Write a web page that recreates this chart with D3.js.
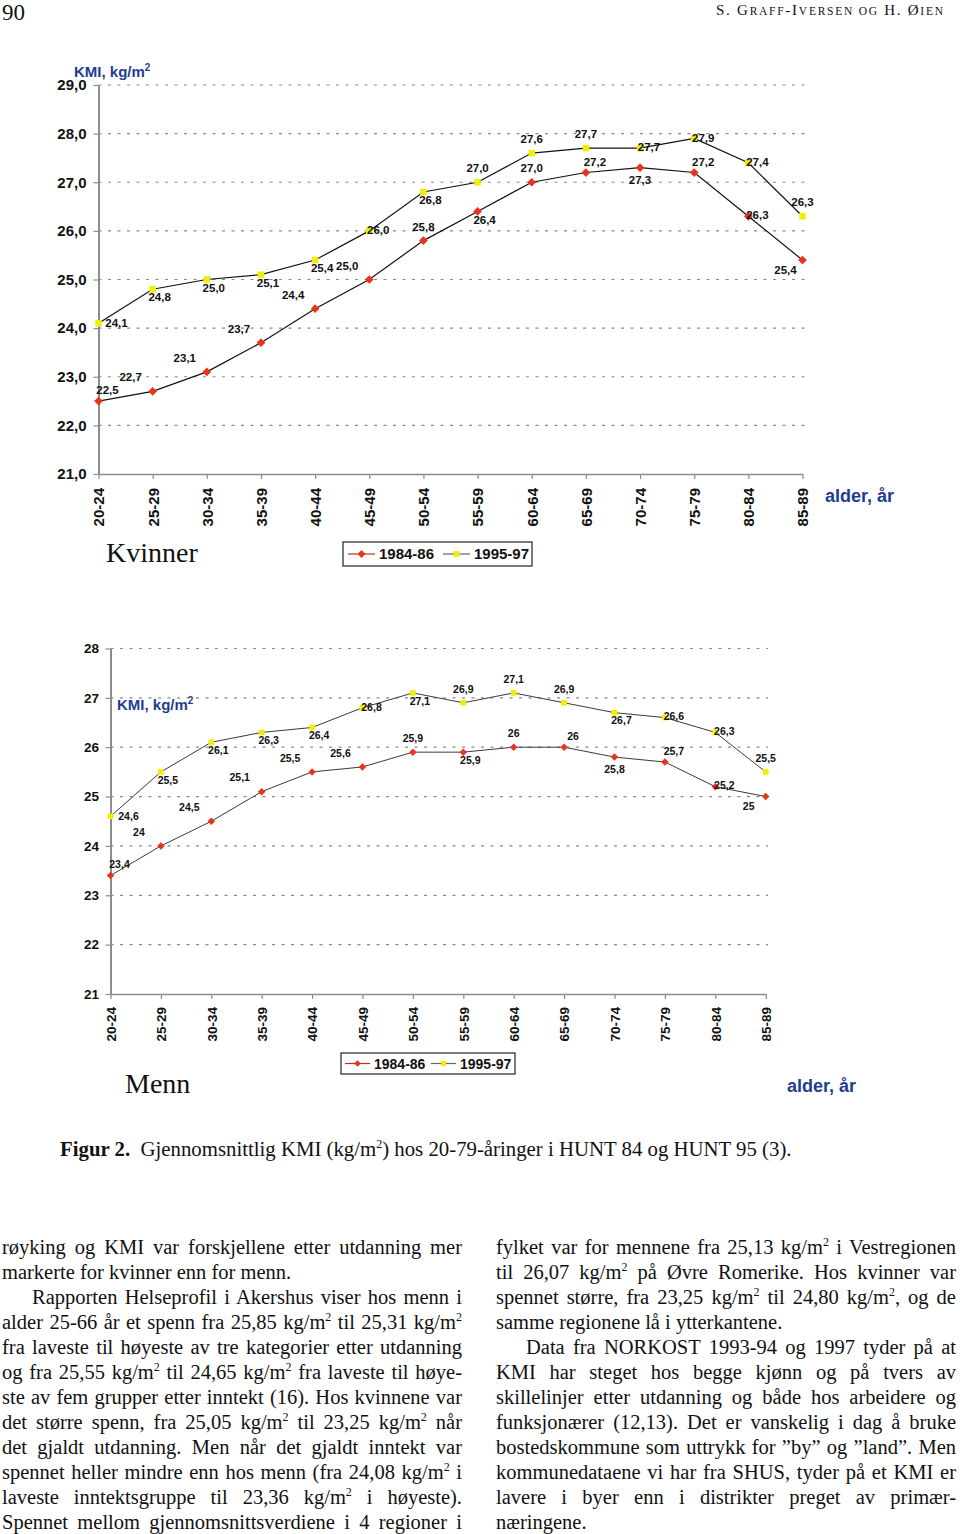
<!DOCTYPE html>
<html><head><meta charset="utf-8">
<script src="https://cdn.jsdelivr.net/npm/d3@7"></script>
<style>
body{margin:0;background:#fff;width:960px;height:1534px;overflow:hidden;position:relative;}
svg{position:absolute;left:0;top:0;}
.txt{position:absolute;font-family:"Liberation Serif","Times New Roman",serif;font-size:20.5px;line-height:25px;color:#111;}
.txt div{white-space:nowrap;}
.txt .j{text-align:justify;text-align-last:justify;}
sup{font-size:12px;line-height:0;vertical-align:8px;}
</style></head><body>
<svg id="chart" width="960" height="1534"></svg>
<div id="cap" class="txt" style="left:60px;top:1136px;font-size:20.8px"></div>
<div id="left" class="txt" style="left:2px;top:1235px;width:460px"></div>
<div id="right" class="txt" style="left:496px;top:1235px;width:460px"></div>
<script>
// ---------- data ----------
const ageGroups = ["20-24","25-29","30-34","35-39","40-44","45-49","50-54","55-59","60-64","65-69","70-74","75-79","80-84","85-89"];
const seriesNames = ["1984-86","1995-97"];
const women1984 = [22.5, 22.7, 23.1, 23.7, 24.4, 25.0, 25.8, 26.4, 27.0, 27.2, 27.3, 27.2, 26.3, 25.4];
const women1995 = [24.1, 24.8, 25.0, 25.1, 25.4, 26.0, 26.8, 27.0, 27.6, 27.7, 27.7, 27.9, 27.4, 26.3];
const men1984   = [23.4, 24, 24.5, 25.1, 25.5, 25.6, 25.9, 25.9, 26, 26, 25.8, 25.7, 25.2, 25];
const men1995   = [24.6, 25.5, 26.1, 26.3, 26.4, 26.8, 27.1, 26.9, 27.1, 26.9, 26.7, 26.6, 26.3, 25.5];
const womenTicks = [21, 22, 23, 24, 25, 26, 27, 28, 29];
const menTicks   = [21, 22, 23, 24, 25, 26, 27, 28];
// label placement codes (a=above, b=below, r=right, al/ar=above-left/right, br/bl=below-right/left)
const womenPlace1984 = ["ar","al","al","al","al","al","a","br","a","ar","b","ar","r","bl"];
const womenPlace1995 = ["rr","br","br","br","br","r","br","a","a","a","r","r","r","a"];
const menPlace1984   = ["ar","al","al","al","al","al","a","br","a","ar","b","ar","r","bl"];
const menPlace1995   = ["rr","br","br","br","br","r","br","a","a","a","br","r","r","a"];

// ---------- style ----------
const FONT = "'Liberation Sans', Arial, sans-serif";
const SERIF = "'Liberation Serif','Times New Roman',serif";
const BLUE = "#1f3d8f";
const RED = "#e8341c", YEL = "#f2ee00";
const OFF = {a:[0,-14], b:[0,12], r:[9,-1], rr:[18,0], al:[-22,-14], ar:[9,-11], br:[7,8], bl:[-17,10]};

const svg = d3.select("#chart");

function chart(cfg){
  const g = svg.append("g");
  const x = d3.scalePoint().domain(ageGroups).range([cfg.left, cfg.right]);
  const y = d3.scaleLinear().domain(cfg.domain).range([cfg.bottom, cfg.top]);

  g.selectAll("line.grid").data(cfg.ticks.filter(t => t > cfg.domain[0])).join("line")
    .attr("class","grid")
    .attr("x1", cfg.left).attr("x2", cfg.gridEnd)
    .attr("y1", d => y(d)).attr("y2", d => y(d))
    .attr("stroke","#8a8a8a").attr("stroke-width",1.2).attr("stroke-dasharray","3,6.5");

  const ya = d3.axisLeft(y).tickValues(cfg.ticks).tickFormat(cfg.tickFmt)
    .tickSize(5).tickSizeOuter(0).tickPadding(cfg.yPad);
  g.append("g").attr("transform", `translate(${cfg.left},0)`).call(ya)
    .call(s => {
      s.select(".domain").attr("stroke","#8c8c8c").attr("stroke-width",2);
      s.selectAll(".tick line").attr("stroke","#8c8c8c").attr("stroke-width",1.2);
      s.selectAll("text").attr("font-family",FONT).attr("font-weight","bold")
        .attr("font-size",cfg.yFont).attr("fill","#111");
    });

  const xa = d3.axisBottom(x).tickSize(5).tickSizeOuter(0);
  g.append("g").attr("transform", `translate(0,${cfg.bottom})`).call(xa)
    .call(s => {
      s.select(".domain").attr("stroke","#8c8c8c").attr("stroke-width",1.6);
      s.selectAll(".tick line").attr("stroke","#8c8c8c").attr("stroke-width",1.2);
      s.selectAll("text").attr("font-family",FONT).attr("font-weight","bold")
        .attr("font-size",cfg.xFont).attr("fill","#111")
        .attr("transform","rotate(-90)").attr("text-anchor","end")
        .attr("x", -cfg.xPad).attr("y", 0).attr("dy","0.36em");
    });

  const line = d3.line().x((d,i) => x(ageGroups[i])).y(d => y(d));
  cfg.series.forEach(s => {
    g.append("path").datum(s.values).attr("d", line)
      .attr("fill","none").attr("stroke", cfg.lineColor).attr("stroke-width", cfg.lineW);
  });
  cfg.series.forEach(s => {
    g.selectAll(null).data(s.values).join("path")
      .attr("d", d3.symbol().type(d3.symbolSquare).size(s.msize))
      .attr("transform", (d,i) => `translate(${x(ageGroups[i])},${y(d)}) rotate(${s.rot})`)
      .attr("fill", s.color);
    g.selectAll(null).data(s.values).join("text")
      .attr("x", (d,i) => x(ageGroups[i]) + OFF[s.place[i]][0])
      .attr("y", (d,i) => y(d) + OFF[s.place[i]][1])
      .attr("dy","0.36em").attr("text-anchor","middle")
      .attr("font-family",FONT).attr("font-weight","bold").attr("font-size",cfg.labFont)
      .attr("fill","#111").text(d => cfg.labFmt(d));
  });

  // legend
  const L = cfg.legend;
  const lg = g.append("g");
  lg.append("rect").attr("x",L.x).attr("y",L.y).attr("width",L.w).attr("height",L.h)
    .attr("fill","#fff").attr("stroke","#333").attr("stroke-width",1.3);
  cfg.series.forEach((s,k) => {
    const cy = L.y + L.h/2;
    const lx = L.x + L.items[k];
    lg.append("line").attr("x1",lx).attr("x2",lx+L.lineLen).attr("y1",cy).attr("y2",cy)
      .attr("stroke", k === 0 ? "#c0301c" : "#666").attr("stroke-width",1.2);
    lg.append("path").attr("d", d3.symbol().type(d3.symbolSquare).size(s.msize*0.8))
      .attr("transform",`translate(${lx+L.lineLen/2},${cy}) rotate(${s.rot})`).attr("fill",s.color);
    lg.append("text").attr("x", lx + L.lineLen + 4).attr("y", cy).attr("dy","0.36em")
      .attr("font-family",FONT).attr("font-weight","bold").attr("font-size",L.font)
      .attr("fill","#111").text(seriesNames[k]);
  });

  // titles
  const t = g.append("text").attr("x",cfg.kmi[0]).attr("y",cfg.kmi[1])
    .attr("font-family",FONT).attr("font-weight","bold").attr("font-size",15).attr("fill",BLUE);
  t.append("tspan").text("KMI, kg/m");
  t.append("tspan").attr("font-size",10).attr("dy",-6).text("2");
  g.append("text").attr("x",cfg.alder[0]).attr("y",cfg.alder[1])
    .attr("font-family",FONT).attr("font-weight","bold").attr("font-size",18).attr("fill",BLUE)
    .text("alder, år");
  g.append("text").attr("x",cfg.sex[0]).attr("y",cfg.sex[1])
    .attr("font-family",SERIF).attr("font-size",28).attr("fill","#111").text(cfg.sexLabel);
}

const comma1 = d => d3.format(".1f")(d).replace(".", ",");
const commaN = d => String(d).replace(".", ",");

chart({
  left: 98.5, right: 802.5, top: 85, bottom: 474, gridEnd: 806,
  domain: [21, 29], ticks: womenTicks, tickFmt: comma1, labFmt: comma1,
  yFont: 15, yPad: 7, xFont: 15, xPad: 14, labFont: 11.5,
  lineColor: "#111", lineW: 1.2,
  series: [
    {values: women1984, place: womenPlace1984, color: RED, msize: 38, rot: 45},
    {values: women1995, place: womenPlace1995, color: YEL, msize: 42, rot: 0}
  ],
  legend: {x: 343, y: 542, w: 189, h: 24, items: [5, 100], lineLen: 27, font: 15},
  kmi: [74, 77], alder: [825, 502], sex: [106, 562], sexLabel: "Kvinner"
});

chart({
  left: 110.5, right: 765.7, top: 648.5, bottom: 994, gridEnd: 768,
  domain: [21, 28], ticks: menTicks, tickFmt: d3.format("d"), labFmt: commaN,
  yFont: 13.5, yPad: 6.5, xFont: 13.5, xPad: 13, labFont: 10.5,
  lineColor: "#3a3a3a", lineW: 1,
  series: [
    {values: men1984, place: menPlace1984, color: RED, msize: 28, rot: 45},
    {values: men1995, place: menPlace1995, color: YEL, msize: 32, rot: 0}
  ],
  legend: {x: 341, y: 1053, w: 174, h: 21, items: [4, 90], lineLen: 25, font: 14},
  kmi: [117, 710], alder: [787, 1092], sex: [125, 1093], sexLabel: "Menn"
});

// ---------- page header ----------
svg.append("text").attr("x",2).attr("y",20).attr("font-family",SERIF).attr("font-size",23)
  .attr("fill","#111").text("90");
const hdr = svg.append("text").attr("x",943).attr("y",15).attr("text-anchor","end")
  .attr("font-family",SERIF).attr("fill","#111").attr("font-size",15)
  .attr("textLength",227).attr("lengthAdjust","spacing");
[["S. G",15],["RAFF",11.5],["-I",15],["VERSEN OG",11.5],[" H. Ø",15],["IEN",11.5]].forEach(([s,f]) =>
  hdr.append("tspan").attr("font-size",f).text(s));

// ---------- caption & body text ----------
const sup = s => s.replace(/\^2/g, "<sup>2</sup>");
document.getElementById("cap").innerHTML =
  "<b>Figur 2.</b>&nbsp; " + sup("Gjennomsnittlig KMI (kg/m^2) hos 20-79-åringer i HUNT 84 og HUNT 95 (3).");

const leftLines = [
  ["j","røyking og KMI var forskjellene etter utdanning mer"],
  ["l","markerte for kvinner enn for menn."],
  ["ji","Rapporten Helseprofil i Akershus viser hos menn i"],
  ["j","alder 25-66 år et spenn fra 25,85 kg/m^2 til 25,31 kg/m^2"],
  ["j","fra laveste til høyeste av tre kategorier etter utdanning"],
  ["j","og fra 25,55 kg/m^2 til 24,65 kg/m^2 fra laveste til høye-"],
  ["j","ste av fem grupper etter inntekt (16). Hos kvinnene var"],
  ["j","det større spenn, fra 25,05 kg/m^2 til 23,25 kg/m^2 når"],
  ["j","det gjaldt utdanning. Men når det gjaldt inntekt var"],
  ["j","spennet heller mindre enn hos menn (fra 24,08 kg/m^2 i"],
  ["j","laveste inntektsgruppe til 23,36 kg/m^2 i høyeste)."],
  ["j","Spennet mellom gjennomsnittsverdiene i 4 regioner i"]
];
const rightLines = [
  ["j","fylket var for mennene fra 25,13 kg/m^2 i Vestregionen"],
  ["j","til 26,07 kg/m^2 på Øvre Romerike. Hos kvinner var"],
  ["j","spennet større, fra 23,25 kg/m^2 til 24,80 kg/m^2, og de"],
  ["l","samme regionene lå i ytterkantene."],
  ["ji","Data fra NORKOST 1993-94 og 1997 tyder på at"],
  ["j","KMI har steget hos begge kjønn og på tvers av"],
  ["j","skillelinjer etter utdanning og både hos arbeidere og"],
  ["j","funksjonærer (12,13). Det er vanskelig i dag å bruke"],
  ["j","bostedskommune som uttrykk for ”by” og ”land”. Men"],
  ["j","kommunedataene vi har fra SHUS, tyder på et KMI er"],
  ["j","lavere i byer enn i distrikter preget av primær-"],
  ["l","næringene."]
];
function fill(id, lines){
  d3.select("#" + id).selectAll("div").data(lines).join("div")
    .attr("class", d => d[0].startsWith("j") ? "j" : "l")
    .style("padding-left", d => d[0] === "ji" ? "30px" : "0px")
    .html(d => sup(d[1]));
}
fill("left", leftLines);
fill("right", rightLines);
</script>
</body></html>
